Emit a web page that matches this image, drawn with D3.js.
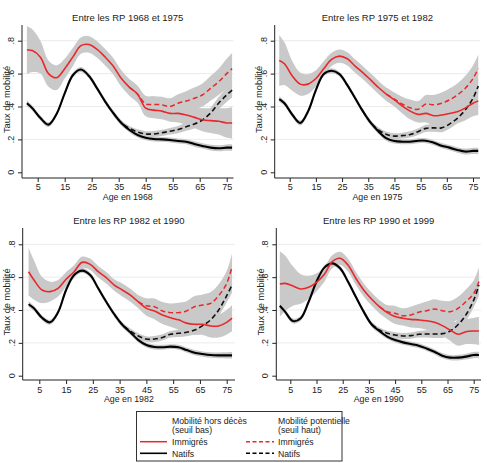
<!DOCTYPE html>
<html><head><meta charset="utf-8">
<script src="https://cdn.jsdelivr.net/npm/d3@7/dist/d3.min.js"></script>
<style>
body{margin:0;background:#fff;}
svg{display:block;font-family:"Liberation Sans",Arial,sans-serif;}
</style></head>
<body>
<svg id="chart" width="487" height="463"></svg>
<script>
// ---------- data ----------
const ages = [1,3,6,9,12,15,18,21,24,27,30,33,36,39,42,45,48,51,54,57,60,63,66,69,72,75,77];
const xTicks = [5,15,25,35,45,55,65,75];
const yTicks = [0,0.2,0.4,0.6,0.8];
const yTickLabels = ["0",".2",".4",".6",".8"];
const titles = ["Entre les RP 1968 et 1975","Entre les RP 1975 et 1982","Entre les RP 1982 et 1990","Entre les RP 1990 et 1999"];
const xTitles = ["Age en 1968","Age en 1975","Age en 1982","Age en 1990"];
const yTitle = "Taux de mobilité";
const _ = null;

// 1968-1975
const imm1968 = [0.743,0.74,0.70,0.60,0.575,0.63,0.70,0.77,0.777,0.747,0.70,0.645,0.57,0.516,0.475,0.39,0.378,0.372,0.358,0.358,0.348,0.334,0.32,0.314,0.31,0.30,0.30];
const immPot1968 = [_,_,_,_,_,_,_,_,_,_,_,_,_,0.516,0.475,0.415,0.413,0.41,0.40,0.42,0.433,0.45,0.47,0.51,0.55,0.60,0.63];
const nat1968 = [0.42,0.39,0.33,0.29,0.355,0.48,0.59,0.625,0.585,0.51,0.43,0.36,0.30,0.257,0.227,0.21,0.202,0.20,0.196,0.19,0.186,0.172,0.16,0.15,0.146,0.15,0.15];
const natPot1968 = [_,_,_,_,_,_,_,_,_,_,_,0.36,0.30,0.267,0.245,0.233,0.233,0.24,0.25,0.26,0.277,0.293,0.318,0.36,0.42,0.47,0.50];
const immCI1968 = [0.145,0.13,0.10,0.08,0.075,0.06,0.055,0.05,0.05,0.05,0.05,0.05,0.05,0.05,0.05,0.05,0.05,0.05,0.05,0.055,0.06,0.065,0.07,0.075,0.08,0.09,0.095];

// 1975-1982
const imm1975 = [0.68,0.66,0.585,0.536,0.536,0.57,0.63,0.686,0.706,0.69,0.645,0.605,0.56,0.514,0.474,0.44,0.403,0.372,0.352,0.358,0.344,0.348,0.358,0.368,0.39,0.42,0.433];
const immPot1975 = [_,_,_,_,_,_,_,_,_,_,_,_,_,_,0.474,0.445,0.415,0.392,0.383,0.415,0.41,0.42,0.44,0.47,0.51,0.57,0.63];
const nat1975 = [0.445,0.42,0.35,0.30,0.37,0.50,0.597,0.617,0.597,0.53,0.45,0.37,0.30,0.247,0.206,0.19,0.186,0.186,0.192,0.192,0.18,0.162,0.15,0.136,0.126,0.13,0.13];
const natPot1975 = [_,_,_,_,_,_,_,_,_,_,_,0.37,0.30,0.257,0.23,0.22,0.223,0.23,0.247,0.267,0.27,0.27,0.293,0.328,0.378,0.45,0.525];
const immCI1975 = [0.155,0.13,0.09,0.07,0.06,0.05,0.045,0.04,0.04,0.04,0.04,0.04,0.04,0.04,0.04,0.04,0.045,0.05,0.05,0.055,0.06,0.065,0.07,0.07,0.075,0.08,0.085];

// 1982-1990
const imm1982 = [0.633,0.583,0.522,0.512,0.532,0.587,0.633,0.69,0.678,0.633,0.597,0.552,0.522,0.49,0.45,0.41,0.394,0.37,0.353,0.34,0.32,0.313,0.313,0.303,0.303,0.325,0.35];
const immPot1982 = [_,_,_,_,_,_,_,_,_,_,_,_,_,_,0.45,0.426,0.42,0.394,0.384,0.384,0.394,0.42,0.43,0.44,0.487,0.562,0.664];
const nat1982 = [0.435,0.41,0.353,0.325,0.386,0.522,0.613,0.64,0.613,0.532,0.45,0.374,0.31,0.264,0.217,0.187,0.175,0.173,0.177,0.173,0.156,0.14,0.132,0.126,0.124,0.124,0.124];
const natPot1982 = [_,_,_,_,_,_,_,_,_,_,_,0.374,0.31,0.272,0.242,0.223,0.223,0.233,0.252,0.258,0.264,0.278,0.305,0.34,0.40,0.487,0.552];
const immCI1982 = [0.145,0.12,0.08,0.06,0.05,0.045,0.04,0.035,0.035,0.035,0.035,0.035,0.04,0.04,0.04,0.045,0.05,0.055,0.055,0.06,0.06,0.065,0.065,0.07,0.07,0.075,0.08];

// 1990-1999
const imm1990 = [0.558,0.562,0.546,0.528,0.538,0.568,0.617,0.694,0.715,0.674,0.593,0.522,0.467,0.42,0.384,0.36,0.35,0.343,0.34,0.335,0.325,0.305,0.278,0.252,0.268,0.272,0.272];
const immPot1990 = [_,_,_,_,_,_,_,_,_,_,_,_,_,0.42,0.39,0.38,0.365,0.37,0.386,0.396,0.406,0.396,0.39,0.41,0.45,0.50,0.573];
const nat1990 = [0.426,0.39,0.333,0.35,0.45,0.573,0.658,0.684,0.654,0.573,0.48,0.39,0.313,0.272,0.238,0.217,0.203,0.193,0.183,0.166,0.146,0.122,0.11,0.11,0.116,0.126,0.126];
const natPot1990 = [_,_,_,_,_,_,_,_,_,_,_,_,0.313,0.278,0.258,0.248,0.242,0.244,0.252,0.254,0.254,0.256,0.272,0.31,0.37,0.46,0.552];
const immCI1990 = [0.2,0.17,0.12,0.09,0.07,0.055,0.045,0.04,0.04,0.04,0.04,0.04,0.04,0.04,0.04,0.045,0.045,0.05,0.05,0.055,0.06,0.06,0.065,0.07,0.075,0.08,0.085];

// natives CI half-widths (shared)
const natCI = [0.018,0.016,0.015,0.015,0.015,0.015,0.015,0.015,0.015,0.015,0.015,0.015,0.015,0.015,0.015,0.015,0.015,0.015,0.015,0.015,0.015,0.016,0.016,0.017,0.018,0.019,0.02];
const natPotCI = [0.015,0.015,0.015,0.015,0.015,0.015,0.015,0.015,0.015,0.015,0.015,0.015,0.015,0.015,0.016,0.017,0.018,0.019,0.02,0.022,0.024,0.026,0.028,0.032,0.037,0.042,0.047];

const legendHeads = [["Mobilité hors décès","(seuil bas)"],["Mobilité potentielle","(seuil haut)"]];
const legendRows = ["Immigrés","Natifs"];

// ---------- layout ----------
const series = [
  {imm:imm1968, immPot:immPot1968, nat:nat1968, natPot:natPot1968, immCI:immCI1968},
  {imm:imm1975, immPot:immPot1975, nat:nat1975, natPot:natPot1975, immCI:immCI1975},
  {imm:imm1982, immPot:immPot1982, nat:nat1982, natPot:natPot1982, immCI:immCI1982},
  {imm:imm1990, immPot:immPot1990, nat:nat1990, natPot:natPot1990, immCI:immCI1990}
];
const layout = [
  {axisX:22,    axisEnd:233.5, x5:37.7,  x75:226.7, yZero:172.3, yEight:40.7,  axisY:178, top:25,  titleY:20.5, tickY:190, xTitleY:199.5},
  {axisX:274.7, axisEnd:480,   x5:289.7, x75:473,   yZero:172.3, yEight:40.7,  axisY:178, top:25,  titleY:20.5, tickY:190, xTitleY:199.5},
  {axisX:22.7,  axisEnd:235,   x5:39.3,  x75:226.7, yZero:375.7, yEight:244.3, axisY:380, top:228, titleY:223.5, tickY:393, xTitleY:402},
  {axisX:276.3, axisEnd:481,   x5:290.3, x75:473.7, yZero:375.7, yEight:244.3, axisY:380, top:228, titleY:223.5, tickY:393, xTitleY:402}
];

const RED = "#e8282b", BAND = "#c9c9c9", AXIS = "#222";
const svg = d3.select("#chart");

layout.forEach((L, i) => {
  const S = series[i];
  const x = d3.scaleLinear().domain([5,75]).range([L.x5, L.x75]);
  const y = d3.scaleLinear().domain([0,0.8]).range([L.yZero, L.yEight]);
  const g = svg.append("g");

  // grid
  g.selectAll("line.grid").data(yTicks.filter(v => v > 0)).join("line")
    .attr("x1", L.axisX).attr("x2", L.axisEnd)
    .attr("y1", d => y(d)).attr("y2", d => y(d))
    .attr("stroke", "#ebebeb").attr("stroke-width", 1);

  const pts = (vals, ci) => ages.map((a, k) => ({a, v: vals[k], h: ci[k]}));
  const area = d3.area().defined(d => d.v != null)
    .x(d => x(d.a)).y0(d => y(d.v - d.h)).y1(d => y(d.v + d.h))
    .curve(d3.curveCatmullRom.alpha(0.5));
  const line = d3.line().defined(d => d.v != null)
    .x(d => x(d.a)).y(d => y(d.v))
    .curve(d3.curveCatmullRom.alpha(0.5));

  // bands
  [[S.imm, S.immCI],[S.immPot, S.immCI],[S.nat, natCI],[S.natPot, natPotCI]].forEach(([v, c]) => {
    g.append("path").datum(pts(v, c)).attr("d", area).attr("fill", BAND);
  });

  // lines
  g.append("path").datum(pts(S.natPot, natCI)).attr("d", line)
    .attr("fill","none").attr("stroke","#111").attr("stroke-width",1.6).attr("stroke-dasharray","5,3");
  g.append("path").datum(pts(S.nat, natCI)).attr("d", line)
    .attr("fill","none").attr("stroke","#000").attr("stroke-width",2.1);
  g.append("path").datum(pts(S.immPot, S.immCI)).attr("d", line)
    .attr("fill","none").attr("stroke",RED).attr("stroke-width",1.5).attr("stroke-dasharray","5,3");
  g.append("path").datum(pts(S.imm, S.immCI)).attr("d", line)
    .attr("fill","none").attr("stroke",RED).attr("stroke-width",1.6);

  // axes lines
  g.append("line").attr("x1", L.axisX).attr("x2", L.axisX).attr("y1", L.top).attr("y2", L.axisY)
    .attr("stroke", AXIS).attr("stroke-width", 1);
  g.append("line").attr("x1", L.axisX).attr("x2", L.axisEnd).attr("y1", L.axisY).attr("y2", L.axisY)
    .attr("stroke", AXIS).attr("stroke-width", 1);

  // x axis ticks
  const xa = g.append("g").attr("transform", `translate(0,${L.axisY})`)
    .call(d3.axisBottom(x).tickValues(xTicks).tickSize(4).tickFormat(d3.format("d")));
  xa.select(".domain").remove();
  xa.selectAll("line").attr("stroke", AXIS);
  xa.selectAll("text").attr("y", L.tickY - L.axisY).attr("dy", 0)
    .attr("font-size", 9).attr("fill", "#222").attr("font-family", "Liberation Sans, Arial, sans-serif");

  // y axis ticks
  const ya = g.append("g").attr("transform", `translate(${L.axisX},0)`)
    .call(d3.axisLeft(y).tickValues(yTicks).tickSize(4).tickFormat(""));
  ya.select(".domain").remove();
  ya.selectAll("line").attr("stroke", AXIS);
  g.selectAll("text.ylab").data(yTicks).join("text")
    .attr("transform", (d) => `translate(${L.axisX - 11},${y(d)}) rotate(-90)`)
    .attr("text-anchor", "middle").attr("dy", "0.35em")
    .attr("font-size", 9).attr("fill", "#222")
    .text((d, k) => yTickLabels[k]);

  // y title
  g.append("text")
    .attr("transform", `translate(${L.axisX - 15.5},${(L.top + L.axisY) / 2 - 2}) rotate(-90)`)
    .attr("text-anchor", "middle").attr("dy", "0.35em")
    .attr("font-size", 9.3).attr("fill", "#222").text(yTitle);

  // x title
  g.append("text").attr("x", (L.axisX + L.axisEnd) / 2).attr("y", L.xTitleY)
    .attr("text-anchor", "middle").attr("font-size", 8.8).attr("fill", "#222").text(xTitles[i]);

  // panel title
  g.append("text").attr("x", (L.axisX + L.axisEnd) / 2).attr("y", L.titleY)
    .attr("text-anchor", "middle").attr("font-size", 9.5).attr("fill", "#222").text(titles[i]);
});

// ---------- legend ----------
const lg = svg.append("g");
lg.append("rect").attr("x", 136.5).attr("y", 411.5).attr("width", 205.5).attr("height", 49.5)
  .attr("fill", "#fff").attr("stroke", "#333").attr("stroke-width", 1);
const colX = [172, 278];
const sampleX = [[140, 167], [246, 274]];
const rowY = [441.7, 453.3];
legendHeads.forEach((h, c) => {
  lg.append("text").attr("x", colX[c]).attr("y", 424).attr("font-size", 8.7).attr("fill", "#222").text(h[0]);
  lg.append("text").attr("x", colX[c]).attr("y", 432.7).attr("font-size", 8.7).attr("fill", "#222").text(h[1]);
  legendRows.forEach((r, k) => {
    lg.append("line").attr("x1", sampleX[c][0]).attr("x2", sampleX[c][1])
      .attr("y1", rowY[k]).attr("y2", rowY[k])
      .attr("stroke", k === 0 ? RED : "#000").attr("stroke-width", k === 0 ? 1.5 : 1.6)
      .attr("stroke-dasharray", c === 1 ? "4,2.5" : null);
    lg.append("text").attr("x", colX[c]).attr("y", rowY[k] + 3.2).attr("font-size", 8.7).attr("fill", "#222").text(r);
  });
});
</script>
</body></html>
